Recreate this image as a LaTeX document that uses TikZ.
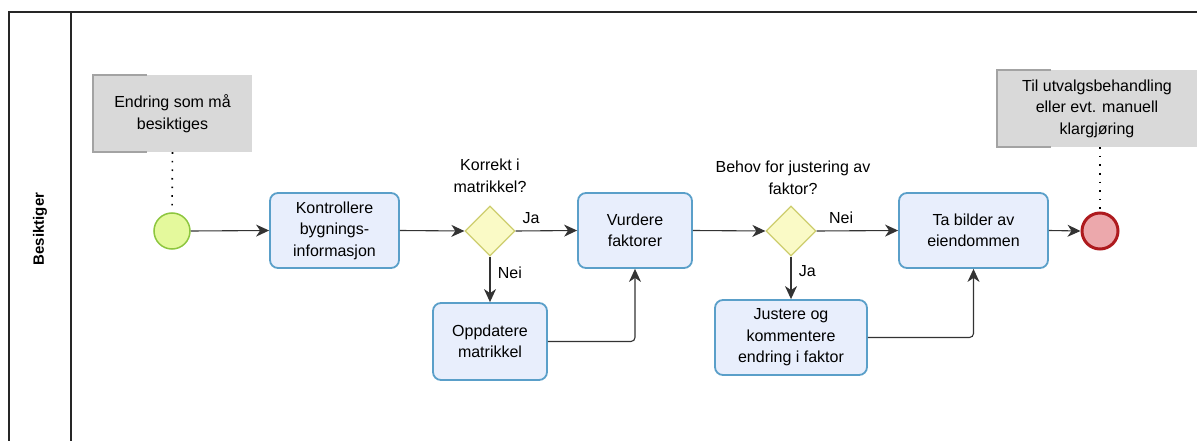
\documentclass[tikz,border=0pt]{standalone}
\usepackage{fontspec}
\setmainfont{Liberation Sans}
\usetikzlibrary{shapes.geometric,arrows.meta}

\definecolor{taskfill}{HTML}{E8EEFC}
\definecolor{taskline}{HTML}{5A9FC9}
\definecolor{gwfill}{HTML}{FAFAC6}
\definecolor{gwline}{HTML}{CDCD6E}
\definecolor{startfill}{HTML}{E4F99C}
\definecolor{startline}{HTML}{8DC63F}
\definecolor{endfill}{HTML}{ECA8AC}
\definecolor{endline}{HTML}{AE1A1E}
\definecolor{notefill}{HTML}{D9D9D9}
\definecolor{notebar}{HTML}{A3A3A3}
\definecolor{flowline}{HTML}{333333}

\tikzset{
  txt/.style={font=\fontsize{16}{21.5}\selectfont, align=center, text=black},
  task/.style={txt, draw=taskline, fill=taskfill, line width=1.8pt,
    rounded corners=8pt, inner sep=0pt},
  gateway/.style={diamond, draw=gwline, fill=gwfill, line width=1.3pt,
    minimum width=50pt, minimum height=50pt, inner sep=0pt},
  startev/.style={circle, draw=startline, fill=startfill, line width=1.5pt,
    minimum size=36pt, inner sep=0pt},
  endev/.style={circle, draw=endline, fill=endfill, line width=3pt,
    minimum size=36pt, inner sep=0pt},
  note/.style={txt, fill=notefill, inner sep=0pt},
  flow/.style={draw=flowline, line width=1.1pt,
    -{Stealth[length=13pt,width=12pt,inset=4pt]}},
  assoc/.style={draw=black, line width=1.6pt, dash pattern=on 1.6pt off 7pt},
  lbl/.style={txt},
  pool/.style={draw=black!85, line width=1.4pt}
}

\newcommand{\notebracket}[1]{%
  \draw[notebar, line width=2pt]
    ([xshift=54pt]#1.north west) -- (#1.north west) -- (#1.south west)
    -- ([xshift=54pt]#1.south west);}

\begin{document}
\begin{tikzpicture}[x=1pt,y=-1pt]
\useasboundingbox (0,0) rectangle (1197,441);

% pool and lane
\draw[pool] (9,445) -- (9,12) -- (1200,12);
\draw[pool] (71,12) -- (71,445);
\node[rotate=90, font=\fontsize{15}{17}\selectfont\bfseries] (lane) at (40,229) {Besiktiger};

% events
\node[startev] (start) at (172,231) {};
\node[endev] (end) at (1100,231) {};

% tasks
\node[task, minimum width=129pt, minimum height=75pt] (kontroll) at (334.5,230.5)
  {Kontrollere\\bygnings-\\informasjon};
\node[task, minimum width=114pt, minimum height=75pt] (vurdere) at (635,230.5)
  {Vurdere\\faktorer};
\node[task, minimum width=114pt, minimum height=77pt] (oppdat) at (490,341.5)
  {Oppdatere\\matrikkel};
\node[task, minimum width=149pt, minimum height=75pt] (bilder) at (973.5,230.5)
  {Ta bilder av\\eiendommen};
\node[task, minimum width=152pt, minimum height=75pt] (justere) at (791,337.5)
  {Justere og\\kommentere\\endring i faktor};

% gateways
\node[gateway] (gw1) at (490,231) {};
\node[gateway] (gw2) at (791,231) {};
\node[lbl] (gw1lbl) at (490,176) {Korrekt i\\matrikkel?};
\node[lbl] (gw2lbl) at (793,178) {Behov for justering av\\faktor?};

% annotations
\node[note, minimum width=159pt, minimum height=77pt] (note1) at (172.5,113.5)
  {Endring som må\\besiktiges};
\notebracket{note1}
\node[note, minimum width=200pt, minimum height=77pt] (note2) at (1097,108.5)
  {Til utvalgsbehandling\\eller evt. manuell\\klargjøring};
\notebracket{note2}

% associations
\draw[assoc] (note1.south) -- (start.north);
\draw[assoc] (end.north |- note2.south) -- (end.north);

% sequence flows
\draw[flow] (start.east) -- (kontroll.west);
\draw[flow] (kontroll.east) -- (gw1.west);
\draw[flow] (gw1.east) -- node[lbl, above=3pt, pos=0.25] (ja1) {Ja} (vurdere.west);
\draw[flow] (gw1.south) -- node[lbl, right=4pt, pos=0.35] (nei1) {Nei} (oppdat.north);
\draw[flow, rounded corners=4pt] (oppdat.east) -| (vurdere.south);
\draw[flow] (vurdere.east) -- (gw2.west);
\draw[flow] (gw2.east) -- node[lbl, above=3pt, pos=0.3] (nei2) {Nei} (bilder.west);
\draw[flow] (gw2.south) -- node[lbl, right=4pt, pos=0.35] (ja2) {Ja} (justere.north);
\draw[flow, rounded corners=4pt] (justere.east) -| (bilder.south);
\draw[flow] (bilder.east) -- (end.west);
\end{tikzpicture}
\end{document}
